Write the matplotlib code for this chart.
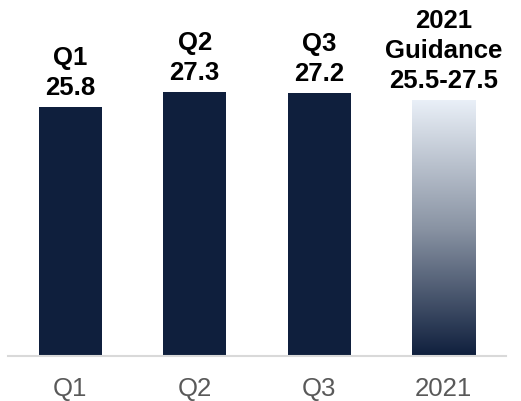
import numpy as np
import matplotlib
matplotlib.use("Agg")
import matplotlib.pyplot as plt
from matplotlib.colors import LinearSegmentedColormap

categories = ["Q1", "Q2", "Q3", "2021"]
values = [25.8, 27.3, 27.2]
guidance_low = 25.5
guidance_high = 27.5
bar_labels = ["Q1\n25.8", "Q2\n27.3", "Q3\n27.2",
              "2021\nGuidance\n25.5-27.5"]

navy = "#0F1F3D"
guidance_mid = (guidance_low + guidance_high) / 2
heights = values + [guidance_mid]

plt.rcParams["font.family"] = ["Liberation Sans", "DejaVu Sans"]

W, H = 521, 401
fig = plt.figure(figsize=(W / 100, H / 100), dpi=100)
ax = fig.add_axes([8 / W, 45 / H, 498 / W, 290 / H])

x = np.arange(len(categories))
bars = ax.bar(x, heights, width=0.507, color=[navy] * 3 + ["none"],
              edgecolor="none", zorder=2)

# gradient fill for the guidance bar
gb = bars[-1]
cmap = LinearSegmentedColormap.from_list("guid", ["#EAF0F8", "#8A94A4", navy])
grad = np.linspace(0, 1, 256).reshape(-1, 1)
x0 = gb.get_x()
im = ax.imshow(grad, cmap=cmap, aspect="auto",
               extent=[x0, x0 + gb.get_width(), 0, gb.get_height()],
               origin="upper", zorder=2)
im.set_clip_path(gb)

ax.set_xlim(-0.5, 3.5)
ax.set_ylim(0, 30)

for xi, h, lab in zip(x, heights, bar_labels):
    ax.annotate(lab, (xi, h), xytext=(0, 7), textcoords="offset pixels",
                ha="center", va="bottom", fontsize=18.5, fontweight="bold",
                color="black", linespacing=1.3, annotation_clip=False)

for s in ["top", "right", "left"]:
    ax.spines[s].set_visible(False)
ax.spines["bottom"].set_color("#D9D9D9")
ax.spines["bottom"].set_linewidth(1.5)
ax.set_yticks([])
ax.set_xticks(x)
ax.set_xticklabels(categories, fontsize=18.5, color="#595959")
ax.tick_params(axis="x", length=0, pad=15)

fig.savefig("out.png", dpi=100)
